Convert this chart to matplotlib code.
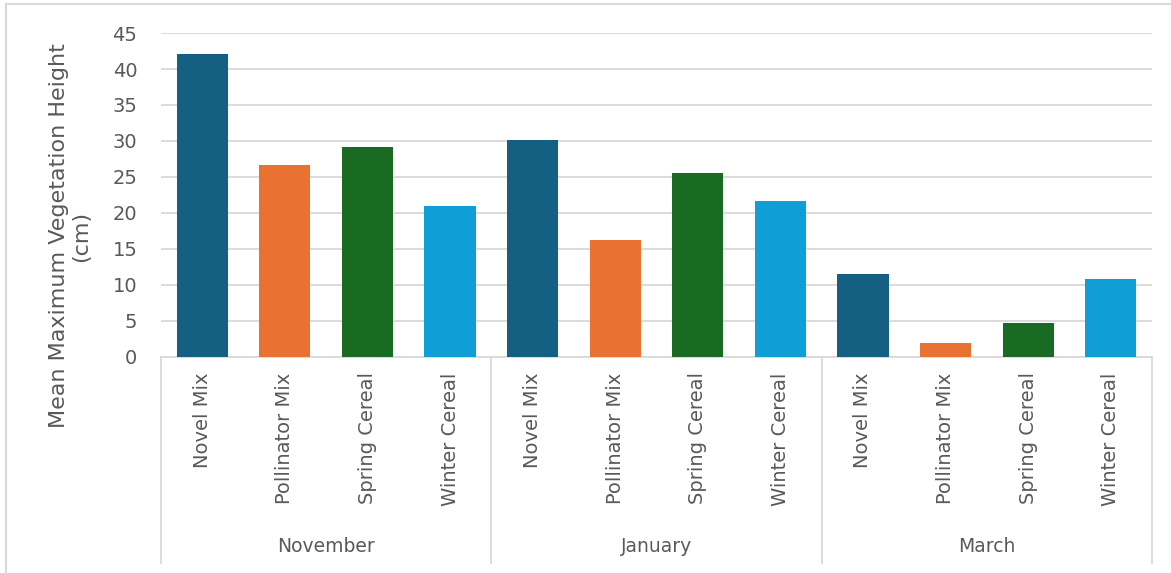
import matplotlib.pyplot as plt
from matplotlib.lines import Line2D
from matplotlib.transforms import blended_transform_factory

months = ["November", "January", "March"]
treatments = ["Novel Mix", "Pollinator Mix", "Spring Cereal", "Winter Cereal"]
colors = ["#156082", "#E97132", "#196B24", "#0F9ED5"]

november = [42.1, 26.6, 29.2, 21.0]
january = [30.2, 16.2, 25.6, 21.7]
march = [11.5, 2.0, 4.7, 10.8]

y_ticks = [0, 5, 10, 15, 20, 25, 30, 35, 40, 45]

text_color = "#595959"
grid_color = "#D9D9D9"

plt.rcParams["font.family"] = ["DejaVu Sans"]

fig = plt.figure(figsize=(11.71, 5.73), dpi=100)
ax = fig.add_axes([0.1375, 0.377, 0.8463, 0.5654])

values = november + january + march
labels = treatments * len(months)
bar_colors = colors * len(months)
x = list(range(len(values)))

ax.bar(x, values, width=0.62, color=bar_colors, zorder=3)

ax.set_xlim(-0.5, len(values) - 0.5)
ax.set_ylim(0, 45)
ax.set_yticks(y_ticks)
ax.set_yticklabels([str(t) for t in y_ticks])
ax.yaxis.grid(True, color=grid_color, linewidth=1.3, zorder=0)
ax.set_axisbelow(True)

ax.set_xticks(x)
ax.set_xticklabels(labels, rotation=90, va="top", ha="center")
ax.tick_params(axis="x", length=0, pad=11, labelsize=14, labelcolor=text_color)
ax.tick_params(axis="y", length=0, pad=17, labelsize=14, labelcolor=text_color)

for side in ["top", "right", "left"]:
    ax.spines[side].set_visible(False)
ax.spines["bottom"].set_color(grid_color)
ax.spines["bottom"].set_linewidth(1.3)

# multi-level category axis: month separators and labels
trans = blended_transform_factory(ax.transData, ax.transAxes)
n = len(treatments)
for i in range(len(months) + 1):
    xb = i * n - 0.5
    ax.plot([xb, xb], [0, -0.636], transform=trans, color=grid_color,
            linewidth=1.3, clip_on=False)
for i, month in enumerate(months):
    ax.text(i * n + (n - 1) / 2, -0.586, month, transform=trans,
            ha="center", va="center", fontsize=13.5, color=text_color)

fig.text(70 / 1171, 1 - 236 / 573, "Mean Maximum Vegetation Height\n(cm)",
         rotation=90, ha="center", va="center", multialignment="center",
         fontsize=16, linespacing=1.15, color=text_color)

# chart area border (top and left edges visible)
fig.add_artist(Line2D([6 / 1171, 1.0], [1 - 4 / 573, 1 - 4 / 573],
                      transform=fig.transFigure, color=grid_color, linewidth=1.5))
fig.add_artist(Line2D([6 / 1171, 6 / 1171], [0.0, 1 - 4 / 573],
                      transform=fig.transFigure, color=grid_color, linewidth=1.5))

fig.savefig("out.png", dpi=100)
